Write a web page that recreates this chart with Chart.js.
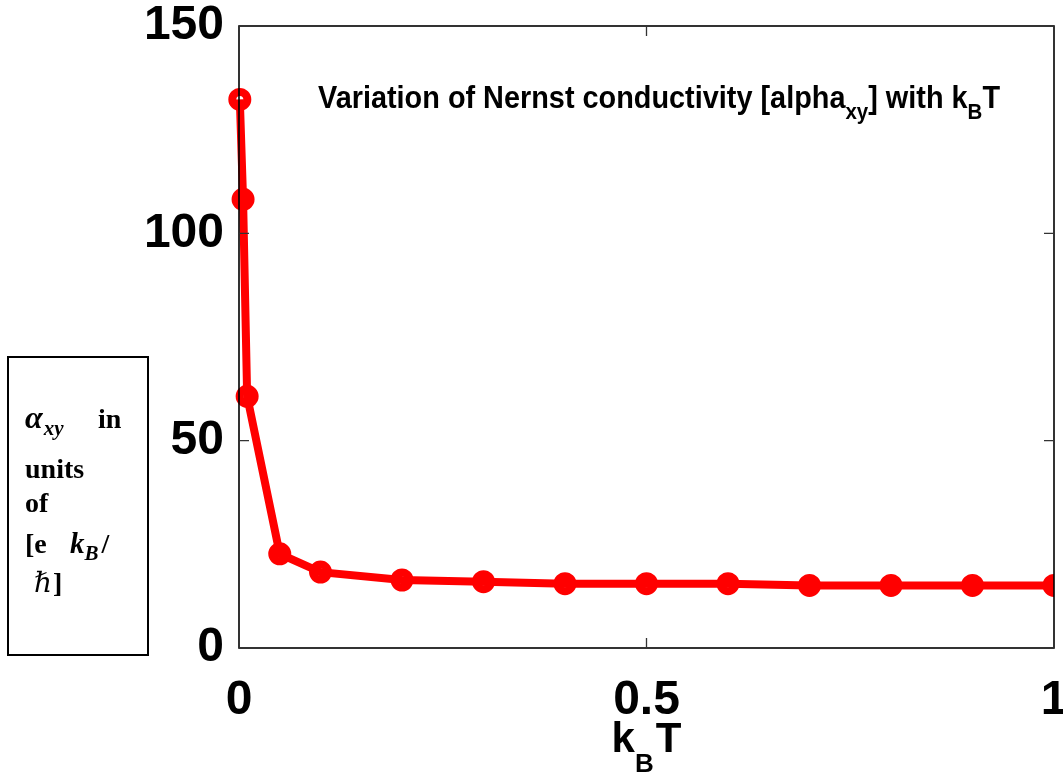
<!DOCTYPE html>
<html>
<head>
<meta charset="utf-8">
<script src="https://cdn.jsdelivr.net/npm/chart.js@4/dist/chart.umd.min.js"></script>
<style>
  html, body { margin: 0; padding: 0; background: #ffffff; }
  #wrap { width: 1063px; height: 774px; position: relative; }
</style>
</head>
<body>
<div id="wrap"><canvas id="c" width="1063" height="774"></canvas></div>
<script>
// ---- data ----
const kBT = [0.001, 0.005, 0.01, 0.05, 0.1, 0.2, 0.3, 0.4, 0.5, 0.6, 0.7, 0.8, 0.9, 1.0];
const alphaXY = [132.3, 108.2, 60.7, 22.7, 18.3, 16.4, 16.0, 15.5, 15.5, 15.5, 15.1, 15.1, 15.1, 15.1];
const xTickValues = [0, 0.5, 1];
const xTickLabels = ['0', '0.5', '1'];
const yTickValues = [0, 50, 100, 150];
const yTickLabels = ['0', '50', '100', '150'];

const titleParts = [
  ['Variation of Nernst conductivity [alpha', false],
  ['xy', true],
  ['] with k', false],
  ['B', true],
  ['T', false]
];

const points = kBT.map((x, i) => ({ x: x, y: alphaXY[i] }));
const RED = '#ff0000';

function zeroPad(scale) {
  scale.paddingTop = 0; scale.paddingBottom = 0;
  scale.paddingLeft = 0; scale.paddingRight = 0;
}

const decorPlugin = {
  id: 'decor',
  afterDatasetsDraw(chart) {
    const ctx = chart.ctx;
    const a = chart.chartArea;
    const xs = chart.scales.x, ys = chart.scales.y;
    ctx.save();
    // axes box
    ctx.strokeStyle = '#000';
    ctx.lineWidth = 1.6;
    ctx.strokeRect(a.left, a.top, a.right - a.left, a.bottom - a.top);
    // inward tick marks
    ctx.lineWidth = 1.3;
    ctx.strokeStyle = '#333';
    const tl = 10;
    xTickValues.forEach(v => {
      const px = xs.getPixelForValue(v);
      ctx.beginPath();
      ctx.moveTo(px, a.bottom); ctx.lineTo(px, a.bottom - tl);
      ctx.moveTo(px, a.top); ctx.lineTo(px, a.top + tl);
      ctx.stroke();
    });
    yTickValues.forEach(v => {
      const py = ys.getPixelForValue(v);
      ctx.beginPath();
      ctx.moveTo(a.left, py); ctx.lineTo(a.left + tl, py);
      ctx.moveTo(a.right, py); ctx.lineTo(a.right - tl, py);
      ctx.stroke();
    });

    // title inside plot (condensed bold sans)
    ctx.fillStyle = '#000';
    ctx.textBaseline = 'alphabetic';
    const big = 'bold 31px "Liberation Sans", Arial, sans-serif';
    const small = 'bold 22px "Liberation Sans", Arial, sans-serif';
    let w = 0;
    titleParts.forEach(([t, sub]) => { ctx.font = sub ? small : big; w += ctx.measureText(t).width; });
    const tx0 = 318, tx1 = 1000, tBase = 108;
    const s = (tx1 - tx0) / w;
    ctx.save();
    ctx.translate(tx0, 0);
    ctx.scale(s, 1);
    let cx = 0;
    titleParts.forEach(([t, sub]) => {
      ctx.font = sub ? small : big;
      ctx.fillText(t, cx, sub ? tBase + 11 : tBase);
      cx += ctx.measureText(t).width;
    });
    ctx.restore();

    // x axis title k_B T
    ctx.font = 'bold 42px "Liberation Sans", Arial, sans-serif';
    const kW = ctx.measureText('k').width;
    const TW = ctx.measureText('T').width;
    ctx.font = 'bold 26px "Liberation Sans", Arial, sans-serif';
    const BW = ctx.measureText('B').width;
    const midX = xs.getPixelForValue(0.5);
    const total = kW + BW + 2 + TW;
    let x0 = midX - total / 2;
    const xb = 752;
    ctx.font = 'bold 42px "Liberation Sans", Arial, sans-serif';
    ctx.fillText('k', x0, xb);
    ctx.font = 'bold 26px "Liberation Sans", Arial, sans-serif';
    ctx.fillText('B', x0 + kW, xb + 20);
    ctx.font = 'bold 42px "Liberation Sans", Arial, sans-serif';
    ctx.fillText('T', x0 + kW + BW + 2, xb);

    // y label box on the left
    ctx.lineWidth = 2;
    ctx.strokeStyle = '#000';
    ctx.strokeRect(8, 357, 140, 298);
    const serifB = 'bold 28px "Liberation Serif", "DejaVu Serif", serif';
    const serifBI = 'italic bold 32px "Liberation Serif", "DejaVu Serif", serif';
    const serifBIk = 'italic bold 29px "Liberation Serif", "DejaVu Serif", serif';
    const serifBIs = 'italic bold 21px "Liberation Serif", "DejaVu Serif", serif';
    // line 1
    ctx.font = serifBI;
    ctx.fillText('α', 25, 428);
    let aw = ctx.measureText('α').width;
    ctx.font = serifBIs;
    ctx.fillText('xy', 25 + aw + 1, 435);
    ctx.font = serifB;
    ctx.fillText('in', 98, 428);
    // line 2, 3
    ctx.fillText('units', 25, 478);
    ctx.fillText('of', 25, 512);
    // line 4
    ctx.fillText('[e', 25, 553);
    ctx.font = serifBIk;
    ctx.fillText('k', 70, 553);
    const kw2 = ctx.measureText('k').width;
    ctx.font = serifBIs;
    ctx.fillText('B', 70 + kw2, 560);
    const bw2 = ctx.measureText('B').width;
    ctx.font = serifB;
    ctx.fillText('/', 70 + kw2 + bw2 + 3, 553);
    // line 5
    ctx.font = 'italic 28px "Liberation Serif", "DejaVu Serif", serif';
    ctx.fillText('ℏ', 34, 592);
    const hw = ctx.measureText('ℏ').width;
    ctx.font = serifB;
    ctx.fillText(']', 34 + hw + 1, 592);
    ctx.restore();
  }
};

new Chart(document.getElementById('c'), {
  type: 'scatter',
  data: {
    datasets: [
      {
        label: 'line',
        data: points,
        showLine: true,
        borderColor: RED,
        borderWidth: 8,
        pointRadius: 0,
        pointHoverRadius: 0,
        order: 0,
        clip: { left: 30, top: 30, right: 0, bottom: 30 }
      },
      {
        label: 'markers',
        data: points,
        showLine: false,
        pointRadius: 7.5,
        pointHoverRadius: 7.5,
        pointBorderWidth: 8,
        pointBorderColor: RED,
        pointBackgroundColor: '#ffffff',
        order: 1,
        clip: { left: 30, top: 30, right: 0, bottom: 30 }
      }
    ]
  },
  options: {
    responsive: false,
    animation: false,
    events: [],
    layout: { autoPadding: false, padding: { left: 0, top: 26, right: 9, bottom: 0 } },
    plugins: { legend: { display: false }, tooltip: { enabled: false }, title: { display: false } },
    scales: {
      x: {
        type: 'linear',
        min: 0, max: 1,
        afterBuildTicks: (scale) => { scale.ticks = xTickValues.map(v => ({ value: v })); },
        afterFit: (scale) => { scale.height = 126; zeroPad(scale); },
        grid: { display: false, drawTicks: false },
        border: { display: false },
        ticks: {
          padding: 24,
          color: '#000',
          maxRotation: 0,
          autoSkip: false,
          font: { family: '"Liberation Sans", Arial, sans-serif', size: 48, weight: 'bold' },
          callback: (v) => xTickLabels[xTickValues.indexOf(v)]
        }
      },
      y: {
        type: 'linear',
        min: 0, max: 150,
        afterBuildTicks: (scale) => { scale.ticks = yTickValues.map(v => ({ value: v })); },
        afterFit: (scale) => { scale.width = 239; zeroPad(scale); },
        grid: { display: false, drawTicks: false },
        border: { display: false },
        ticks: {
          padding: 15,
          color: '#000',
          autoSkip: false,
          font: { family: '"Liberation Sans", Arial, sans-serif', size: 48, weight: 'bold' },
          callback: (v) => yTickLabels[yTickValues.indexOf(v)]
        }
      }
    }
  },
  plugins: [decorPlugin]
});
</script>
</body>
</html>
